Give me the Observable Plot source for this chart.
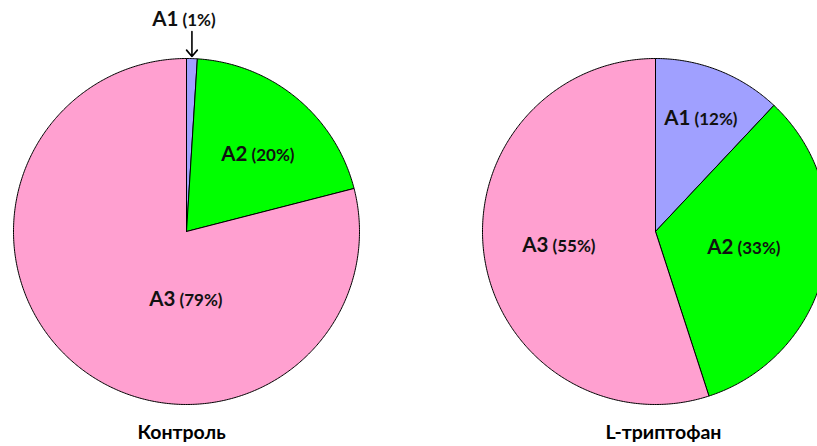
<!DOCTYPE html>
<html>
<head>
<meta charset="utf-8">
<script src="https://cdn.jsdelivr.net/npm/d3@7"></script>
<script src="https://cdn.jsdelivr.net/npm/@observablehq/plot@0.6"></script>
<style>
  html, body { margin: 0; padding: 0; background: #fff; overflow: hidden; }
</style>
</head>
<body>
<div id="chart"></div>
<script>
// ---- data ----
const groups = ["Контроль", "L-триптофан"];
const fractions = ["A1", "A2", "A3"];
const controlValues = [1, 20, 79];
const tryptophanValues = [12, 33, 55];
const seriesValues = [controlValues, tryptophanValues];

// ---- layout / style (not data) ----
const W = 817, H = 446;
const centersX = [186, 655];
const centerY = 231;
const radius = 173;
const colors = ["#a0a0ff", "#00ff00", "#ffa0d0"];
// label anchor points (junction between name and percentage) per group, per fraction
const labelAnchors = [
  [[180, 19], [249, 154], [177, 299]],
  [[692, 118], [735, 247], [550, 245]]
];
const titleY = 432;

// ---- build slice polygons from values ----
const polys = [];
const labels = [];
groups.forEach((g, gi) => {
  const vals = seriesValues[gi];
  const total = d3.sum(vals);
  let cum = 0;
  vals.forEach((v, i) => {
    const a0 = cum / total * 2 * Math.PI;
    cum += v;
    const a1 = cum / total * 2 * Math.PI;
    const key = g + "-" + fractions[i];
    const cx = centersX[gi];
    polys.push({key, frac: fractions[i], x: cx, y: centerY});
    const n = Math.max(2, Math.ceil((a1 - a0) / 0.01));
    for (let k = 0; k <= n; k++) {
      const a = a0 + (a1 - a0) * k / n;
      polys.push({key, frac: fractions[i], x: cx + radius * Math.sin(a), y: centerY - radius * Math.cos(a)});
    }
    polys.push({key, frac: fractions[i], x: cx, y: centerY});
    const [lx, ly] = labelAnchors[gi][i];
    labels.push({x: lx, y: ly, name: fractions[i], pct: "(" + v + "%)", midA: (a0 + a1) / 2, gi});
  });
});

// arrow for tiny A1 slice of the control pie
const a1Label = labels.find(d => d.gi === 0 && d.name === "A1");
const ax = centersX[0] + radius * Math.sin(a1Label.midA);
const arrowData = [{x1: ax, y1: 31, x2: ax, y2: centerY - radius - 2}];

const titles = groups.map((g, gi) => ({x: centersX[gi] + (gi === 0 ? -5 : 8), y: titleY, text: g}));

const chart = Plot.plot({
  width: W,
  height: H,
  margin: 0,
  style: {fontFamily: "Lato, 'Open Sans', sans-serif", background: "#fff"},
  x: {domain: [0, W], range: [0, W], axis: null},
  y: {domain: [0, H], range: [0, H], axis: null},
  color: {domain: fractions, range: colors, legend: false},
  marks: [
    Plot.line(polys, {x: "x", y: "y", z: "key", fill: "frac", stroke: "#000", strokeWidth: 1, strokeLinejoin: "round", curve: "linear", clip: true}),
    Plot.text(labels, {x: "x", y: "y", text: "name", textAnchor: "end", dx: -2, fontSize: 20.5, fontWeight: "bold", fill: "#111"}),
    Plot.text(labels, {x: "x", y: "y", text: "pct", textAnchor: "start", dx: 2, dy: 1, fontSize: 17, fontWeight: "bold", fill: "#111"}),
    Plot.arrow(arrowData, {x1: "x1", y1: "y1", x2: "x2", y2: "y2", stroke: "#000", strokeWidth: 1.6, headLength: 9, headAngle: 80}),
    Plot.text(titles, {x: "x", y: "y", text: "text", fontSize: 19.5, fontWeight: "bold", fill: "#000"})
  ]
});
document.getElementById("chart").appendChild(chart);
</script>
</body>
</html>
